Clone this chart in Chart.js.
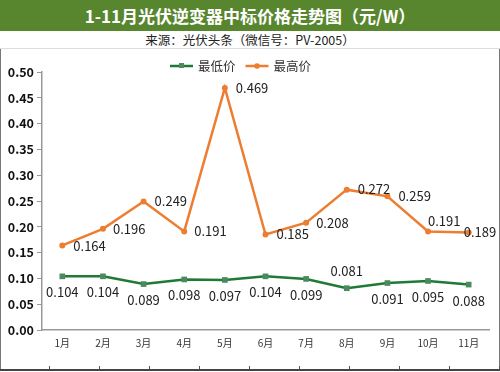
<!DOCTYPE html>
<html>
<head>
<meta charset="utf-8">
<script src="https://cdn.jsdelivr.net/npm/chart.js@4.4.0/dist/chart.umd.min.js"></script>
<style>
    html, body { margin: 0; padding: 0; background: #fff; }
    #wrap { position: relative; width: 500px; height: 372px; overflow: hidden; font-family: "Noto Sans CJK SC", "Noto Sans", sans-serif; }
    #title { position: absolute; left: 0; top: 0; width: 500px; height: 31px; background: #58862f; color: #fff; font-weight: bold; font-size: 17px; line-height: 31px; text-align: center; }
    #sub { position: absolute; left: 0; top: 31px; width: 500px; height: 17px; border-bottom: 1px solid #ddd; font-size: 12.5px; line-height: 17px; text-align: center; color: #222; }
    #box { position: absolute; left: 0; top: 49px; width: 498px; height: 320px; border-left: 1px solid #777; border-right: 1px solid #777; }
    #ticks { position: absolute; left: 0; top: 366px; width: 500px; height: 4px; background: repeating-linear-gradient(to right, transparent 0 49px, #555 49px 50px); }
    #foot { position: absolute; left: 0; top: 369px; width: 500px; height: 2px; background: #444; }
</style>
</head>
<body>
<div id="wrap">
    <div id="title">1-11月光伏逆变器中标价格走势图（元/W）</div>
    <div id="sub">来源：光伏头条（微信号：PV-2005）</div>
    <div id="box"><canvas id="chart" width="498" height="320"></canvas></div>
    <div id="ticks"></div>
    <div id="foot"></div>
</div>
<script>
    /* ---------- 数据 ---------- */
    const months = ['1月', '2月', '3月', '4月', '5月', '6月', '7月', '8月', '9月', '10月', '11月'];
    const lowPrice = [0.104, 0.104, 0.089, 0.098, 0.097, 0.104, 0.099, 0.081, 0.091, 0.095, 0.088];
    const highPrice = [0.164, 0.196, 0.249, 0.191, 0.469, 0.185, 0.208, 0.272, 0.259, 0.191, 0.189];
    const yTicks = [0, 0.05, 0.10, 0.15, 0.20, 0.25, 0.30, 0.35, 0.40, 0.45, 0.50];

    const green = '#1e7a34';
    const greenMark = '#4a8a5c';
    const orange = '#ed7d31';
    const font = '"Noto Sans CJK SC", "Noto Sans", sans-serif';

    // 数据标签位置 (相对点的偏移)
    const highLabelPos = [[11, 1], [10, 0], [11, 0], [10, 0], [11, 0], [11, 0], [10, 0], [11, -1], [11, 0], [0, -10], [-5, 0]];

    const valueLabels = {
        id: 'valueLabels',
        afterDatasetsDraw(chart) {
            const ctx = chart.ctx;
            ctx.save();
            ctx.font = '13px ' + font;
            ctx.fillStyle = '#222';
            ctx.textBaseline = 'middle';
            chart.data.datasets.forEach((ds, di) => {
                const meta = chart.getDatasetMeta(di);
                meta.data.forEach((pt, i) => {
                    const txt = ds.data[i].toFixed(3);
                    if (di === 0) {
                        ctx.textAlign = 'center';
                        const dy = ds.data[i] < 0.085 ? -17 : 16;
                        ctx.fillText(txt, pt.x, pt.y + dy);
                    } else {
                        ctx.textAlign = 'left';
                        const p = highLabelPos[i];
                        ctx.fillText(txt, pt.x + p[0], pt.y + p[1]);
                    }
                });
            });
            ctx.restore();
        }
    };

    // 图例 (线 + 标记)
    const lineLegend = {
        id: 'lineLegend',
        afterDraw(chart) {
            const ctx = chart.ctx;
            ctx.save();
            ctx.font = '12.5px ' + font;
            ctx.textBaseline = 'middle';
            ctx.textAlign = 'left';
            let x = 169;
            const y = 17;
            chart.data.datasets.forEach(ds => {
                ctx.strokeStyle = ds.borderColor;
                ctx.lineWidth = 2.5;
                ctx.beginPath();
                ctx.moveTo(x, y);
                ctx.lineTo(x + 23, y);
                ctx.stroke();
                ctx.fillStyle = ds.pointBackgroundColor;
                if (ds.pointStyle === 'rect') {
                    ctx.fillRect(x + 9, y - 3, 5, 5);
                } else {
                    ctx.beginPath();
                    ctx.arc(x + 11.5, y, 2.8, 0, Math.PI * 2);
                    ctx.fill();
                }
                ctx.fillStyle = '#333';
                ctx.fillText(ds.label, x + 28, y);
                x += 28 + ctx.measureText(ds.label).width + 10;
            });
            ctx.restore();
        }
    };

    new Chart(document.getElementById('chart'), {
        type: 'line',
        data: {
            labels: months,
            datasets: [
                {
                    label: '最低价',
                    data: lowPrice,
                    borderColor: green,
                    backgroundColor: green,
                    borderWidth: 2.5,
                    pointStyle: 'rect',
                    pointRadius: 4,
                    pointBorderWidth: 0,
                    pointBackgroundColor: greenMark,
                    pointBorderColor: greenMark,
                    tension: 0
                },
                {
                    label: '最高价',
                    data: highPrice,
                    borderColor: orange,
                    backgroundColor: orange,
                    borderWidth: 2.5,
                    pointStyle: 'circle',
                    pointRadius: 3,
                    pointBorderWidth: 0,
                    pointBackgroundColor: orange,
                    pointBorderColor: orange,
                    tension: 0
                }
            ]
        },
        options: {
            responsive: false,
            animation: false,
            layout: { padding: { top: 23, right: 10, bottom: 19, left: 0 } },
            plugins: {
                legend: { display: false },
                tooltip: { enabled: false }
            },
            scales: {
                x: {
                    offset: true,
                    grid: { display: false, drawTicks: false },
                    border: { color: '#999', width: 1.5 },
                    ticks: { color: '#333', padding: 7, font: { size: 10, family: font } },
                    afterFit: s => { s.height = 20; }
                },
                y: {
                    min: 0,
                    max: 0.5,
                    afterBuildTicks: s => { s.ticks = yTicks.map(v => ({ value: v })); },
                    grid: { drawOnChartArea: false, tickLength: 5, color: '#999' },
                    border: { color: '#999', width: 1.5 },
                    ticks: {
                        color: '#111',
                        padding: 3,
                        font: { size: 12.5, weight: 'bold', family: font },
                        callback: v => v.toFixed(2)
                    },
                    afterFit: s => { s.width = 41; }
                }
            }
        },
        plugins: [valueLabels, lineLegend]
    });
</script>
</body>
</html>
